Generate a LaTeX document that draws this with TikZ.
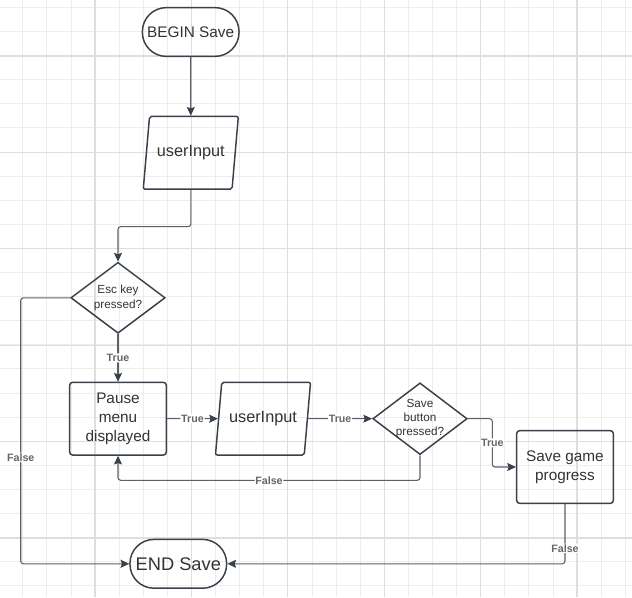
\documentclass[tikz,border=0pt]{standalone}
\usepackage{fontspec}
\setmainfont{Liberation Sans}
\usetikzlibrary{shapes.geometric, arrows.meta}
\definecolor{shapeclr}{HTML}{3A414A}
\definecolor{edgeclr}{HTML}{5C6168}
\definecolor{textclr}{HTML}{333333}
\definecolor{labelclr}{HTML}{666666}
\definecolor{minorclr}{HTML}{EDEDED}
\definecolor{majorclr}{HTML}{DEDEDE}
\begin{document}
\begin{tikzpicture}[x=0.75pt, y=-0.75pt]

        % Define custom styles for shapes, connectors and labels
        \tikzset{
          myterm/.style={rectangle, rounded corners=18pt, draw=shapeclr, line width=1.1pt, text=textclr,
            minimum width=72.5pt, minimum height=36.6pt, font=\fontsize{11.5}{14}\selectfont},
          myio/.style={trapezium, trapezium left angle=75, trapezium right angle=105, trapezium stretches body,
            rounded corners=1.5pt, draw=shapeclr, line width=1.1pt, text=textclr,
            minimum width=71.3pt, minimum height=54.6pt, font=\fontsize{12.2}{14}\selectfont},
          mydecision/.style={diamond, draw=shapeclr, line width=1.1pt, text=textclr, align=center, inner sep=-3pt,
            minimum width=70.8pt, minimum height=53.2pt, font=\fontsize{8.8}{10.8}\selectfont},
          myprocess/.style={rectangle, rounded corners=2.2pt, draw=shapeclr, line width=1.1pt, text=textclr, align=center,
            minimum width=72.5pt, minimum height=54.5pt, font=\fontsize{11.5}{14}\selectfont},
          myarrow/.style={draw=edgeclr, line width=0.8pt, rounded corners=2pt,
            -{Stealth[length=6.5pt, width=6pt, inset=1pt, color=shapeclr]}},
          mylabel/.style={fill=white, inner sep=0.6pt, text=labelclr, font=\fontsize{8}{9}\selectfont\bfseries},
          myminor/.style={draw=minorclr, line width=0.6pt},
          mymajor/.style={draw=majorclr, line width=0.9pt}
        }

        % Background grid
        \useasboundingbox (0,0) rectangle (632,597);
        \fill[white] (0,0) rectangle (632,597);
        \foreach \i in {0,...,25} \draw[myminor] ({22.7+24.1*\i},0) -- ({22.7+24.1*\i},597);
        \foreach \j in {0,...,24} \draw[myminor] (0,{7.3+24.1*\j}) -- (632,{7.3+24.1*\j});
        \foreach \i in {0,...,5} \draw[mymajor] ({95+96.4*\i},0) -- ({95+96.4*\i},597);
        \foreach \j in {0,...,5} \draw[mymajor] (0,{56+96.4*\j}) -- (632,{56+96.4*\j});

        % Define nodes
        \node[myterm] (begin) at (190.7,32) {BEGIN Save};
        \node[myio] (in1) at (190.8,152.8) {userInput};
        \node[mydecision] (esc) at (118,297.8) {Esc key\\pressed?};
        \node[myprocess] (pause) at (118,418.7) {Pause\\menu\\displayed};
        \node[myio] (in2) at (263,418.7) {userInput};
        \node[mydecision] (save) at (420,418.7) {Save\\button\\pressed?};
        \node[myprocess] (progress) at (565,467) {Save game\\progress};
        \node[myterm, font=\fontsize{13.7}{16}\selectfont] (end) at (178.3,563.8) {END Save};

        % Draw connectors with their labels
        \draw[myarrow] (begin) -- (in1);
        \draw[myarrow] (in1.south) -- ++(0,36.7) -| (esc.north);
        \draw[myarrow] (esc.west) -- ++(-49.3,0) |- node[mylabel, pos=0.3] {False} (end.west);
        \draw[myarrow] (esc) -- node[mylabel] {True} (pause);
        \draw[myarrow] (pause) -- node[mylabel] {True} (in2);
        \draw[myarrow] (in2) -- node[mylabel] {True} (save);
        \draw[myarrow] (save.east) -- ++(24.4,0) |- node[mylabel, pos=0.25] {True} (progress.west);
        \draw[myarrow] (save.south) -- ++(0,25) -| node[mylabel, pos=0.25] {False} (pause.south);
        \draw[myarrow] (progress.south) |- node[mylabel, pos=0.37] {False} (end.east);

    \end{tikzpicture}
\end{document}
